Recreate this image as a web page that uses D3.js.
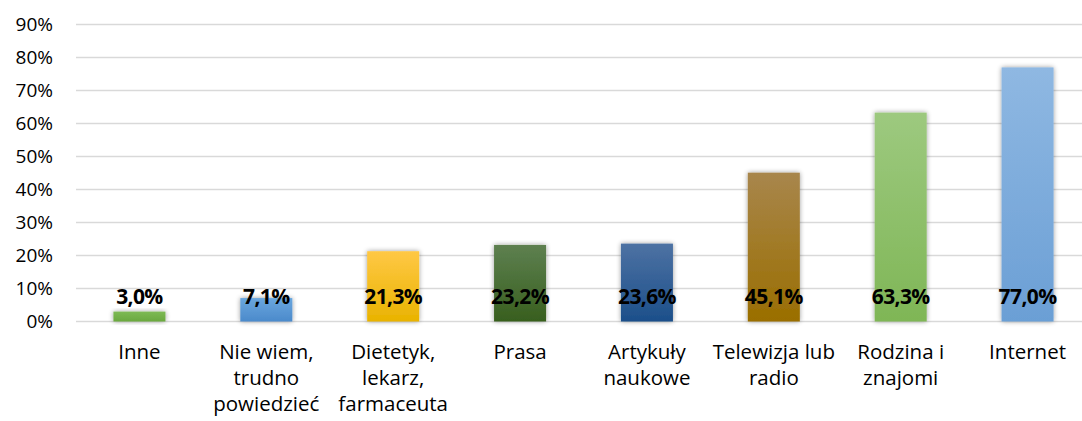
<!DOCTYPE html>
<html><head><meta charset="utf-8">
<script src="https://cdn.jsdelivr.net/npm/d3@7"></script>
<style>
html,body{margin:0;padding:0;background:#fff;}
svg{display:block;font-family:"Open Sans",Lato,sans-serif;}
</style></head>
<body><svg id="c" width="1082" height="421"></svg>
<script>
const categories = [["Inne"],["Nie wiem,","trudno","powiedzieć"],["Dietetyk,","lekarz,","farmaceuta"],["Prasa"],["Artykuły","naukowe"],["Telewizja lub","radio"],["Rodzina i","znajomi"],["Internet"]];
const values = [3.0, 7.1, 21.3, 23.2, 23.6, 45.1, 63.3, 77.0];
const valueLabels = ["3,0%","7,1%","21,3%","23,2%","23,6%","45,1%","63,3%","77,0%"];
const tickValues = [0,10,20,30,40,50,60,70,80,90];
const tickLabels = ["0%","10%","20%","30%","40%","50%","60%","70%","80%","90%"];
const barTop = ["#7dba55","#6aa6de","#ffc845","#5e8050","#4d72a3","#a8864c","#9dc97f","#8fb8e2"];
const barBottom = ["#6aa83f","#4b8acb","#e9b300","#385f1e","#1c4f8a","#9a6e00","#7fb656","#6b9fd5"];

const svg = d3.select("#c");
const x = d3.scaleBand().domain(d3.range(values.length)).range([76, 1091]).paddingInner(0.59).paddingOuter(0.295);
const y = d3.scaleLinear().domain([0, 90]).range([321.5, 24.5]);

const defs = svg.append("defs");
values.forEach((v,i)=>{
  const g = defs.append("linearGradient").attr("id","g"+i).attr("x1",0).attr("y1",0).attr("x2",0).attr("y2",1);
  g.append("stop").attr("offset","0%").attr("stop-color",barTop[i]);
  g.append("stop").attr("offset","100%").attr("stop-color",barBottom[i]);
});
const f = defs.append("filter").attr("id","sh").attr("x","-30%").attr("y","-30%").attr("width","160%").attr("height","160%");
f.append("feGaussianBlur").attr("in","SourceAlpha").attr("stdDeviation",2.4).attr("result","b");
f.append("feOffset").attr("in","b").attr("dx",0).attr("dy",0).attr("result","o");
f.append("feComponentTransfer").attr("in","o").attr("result","s").append("feFuncA").attr("type","linear").attr("slope",0.4);
const m = f.append("feMerge"); m.append("feMergeNode").attr("in","s"); m.append("feMergeNode").attr("in","SourceGraphic");

// grid
svg.append("g").selectAll("line").data(tickValues).join("line")
  .attr("x1",76).attr("x2",1091).attr("y1",d=>y(d)).attr("y2",d=>y(d))
  .attr("stroke","#d9d9d9").attr("stroke-width",1.5);

// y tick labels
svg.append("g").selectAll("text").data(tickValues).join("text")
  .attr("x",53).attr("y",d=>y(d)).attr("dy","0.36em").attr("text-anchor","end")
  .attr("font-size","19px").attr("fill","#000").text((d,i)=>tickLabels[i]);

// bars
svg.append("g").selectAll("rect").data(values).join("rect")
  .attr("x",(d,i)=>x(i)).attr("width",x.bandwidth())
  .attr("y",d=>y(d)).attr("height",d=>y(0)-y(d))
  .attr("fill",(d,i)=>`url(#g${i})`).attr("filter","url(#sh)");

// value labels
svg.append("g").selectAll("text").data(values).join("text")
  .attr("x",(d,i)=>x(i)+x.bandwidth()/2).attr("y",y(0)-18)
  .attr("text-anchor","middle").attr("font-size","21px").attr("font-weight","bold").attr("fill","#000")
  .attr("letter-spacing","-0.6px")
  .text((d,i)=>valueLabels[i]);

// category labels
const cg = svg.append("g").selectAll("text").data(categories).join("text")
  .attr("x",(d,i)=>x(i)+x.bandwidth()/2).attr("y",359)
  .attr("text-anchor","middle").attr("font-size","20.5px").attr("fill","#000");
cg.each(function(lines,i){
  d3.select(this).selectAll("tspan").data(lines).join("tspan")
    .attr("x",x(i)+x.bandwidth()/2).attr("dy",(d,j)=>j===0?0:26).text(d=>d);
});
</script></body></html>
